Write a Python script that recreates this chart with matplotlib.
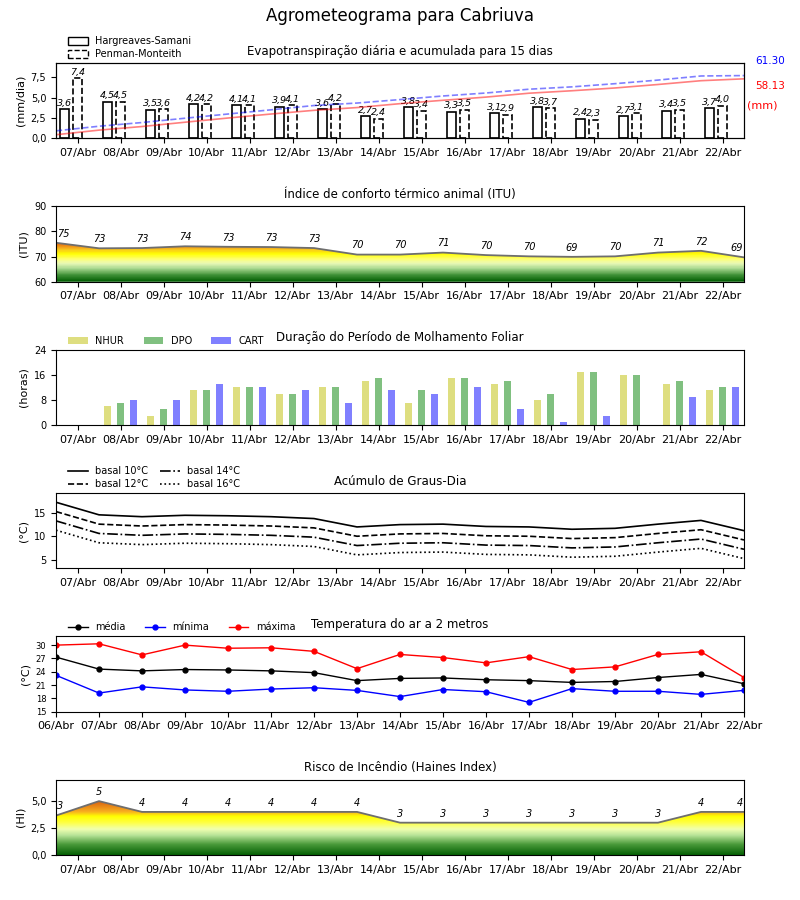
#!/usr/bin/env python3
"""
Agrometeograma - seis paineis diarios
"""

import numpy as np
import matplotlib
matplotlib.use('Agg')
import matplotlib.pyplot as plt
from matplotlib.colors import LinearSegmentedColormap
from matplotlib.patches import Patch, PathPatch
from matplotlib.ticker import FuncFormatter

# Datas
dias = ['07/Abr', '08/Abr', '09/Abr', '10/Abr', '11/Abr', '12/Abr', '13/Abr', '14/Abr',
        '15/Abr', '16/Abr', '17/Abr', '18/Abr', '19/Abr', '20/Abr', '21/Abr', '22/Abr']
dias_temp = ['06/Abr'] + dias

# Evapotranspiracao (mm/dia)
et_hs = [3.6, 4.5, 3.5, 4.2, 4.1, 3.9, 3.6, 2.7, 3.8, 3.3, 3.1, 3.8, 2.4, 2.7, 3.4, 3.7]
et_pm = [7.4, 4.5, 3.6, 4.2, 4.1, 4.1, 4.2, 2.4, 3.4, 3.5, 2.9, 3.7, 2.3, 3.1, 3.5, 4.0]
et_hs_total = 58.13
et_pm_total = 61.30

# ITU (valores nas viradas de dia)
itu = [75.5, 73.3, 73.4, 74.1, 73.9, 73.8, 73.4, 70.8, 70.8, 71.6, 70.6, 70.1,
       69.9, 70.1, 71.6, 72.3, 69.7]

# Molhamento foliar (horas)
nhur = [0, 6, 3, 11, 12, 10, 12, 14, 7, 15, 13, 8, 17, 16, 13, 11]
dpo = [0, 7, 5, 11, 12, 10, 12, 15, 11, 15, 14, 10, 17, 16, 14, 12]
cart = [0, 8, 8, 13, 12, 11, 7, 11, 10, 12, 5, 1, 3, 0, 9, 12]

# Graus-dia
gd10 = [17.3, 14.6, 14.2, 14.5, 14.4, 14.2, 13.8, 12.0, 12.5, 12.6, 12.1, 12.0, 11.5, 11.7, 12.6, 13.4, 11.2]
gd12 = [15.3, 12.6, 12.2, 12.5, 12.4, 12.2, 11.8, 10.0, 10.5, 10.6, 10.1, 10.0, 9.5, 9.7, 10.6, 11.4, 9.2]
gd14 = [13.3, 10.6, 10.2, 10.5, 10.4, 10.2, 9.8, 8.0, 8.5, 8.6, 8.1, 8.0, 7.5, 7.7, 8.6, 9.4, 7.2]
gd16 = [11.3, 8.6, 8.2, 8.5, 8.4, 8.2, 7.8, 6.0, 6.5, 6.6, 6.1, 6.0, 5.5, 5.7, 6.6, 7.4, 5.2]

# Temperatura do ar (C)
t_media = [27.3, 24.6, 24.2, 24.5, 24.4, 24.2, 23.8, 22.0, 22.5, 22.6, 22.2, 22.0, 21.6, 21.8, 22.7, 23.4, 21.3]
t_min = [23.2, 19.2, 20.6, 19.9, 19.6, 20.1, 20.4, 19.8, 18.4, 20.0, 19.5, 17.1, 20.2, 19.6, 19.6, 18.9, 19.8]
t_max = [30.0, 30.3, 27.8, 30.0, 29.3, 29.4, 28.6, 24.7, 27.9, 27.2, 26.0, 27.4, 24.5, 25.1, 27.9, 28.5, 22.7]

# Indice de Haines
haines = [3.66, 5.0, 4.0, 4.0, 4.0, 4.0, 4.0, 4.0, 3.0, 3.0, 3.0, 3.0, 3.0, 3.0, 3.0, 4.0, 4.0]


def virgula(v, pos):
    return f'{v:.1f}'.replace('.', ',')


def preenche_gradiente(ax, x, y, ymin, ymax, cmap):
    """Area sob a curva pintada com gradiente vertical"""
    poly = ax.fill_between(x, ymin, y, facecolor='none', edgecolor='none')
    patch = PathPatch(poly.get_paths()[0], transform=ax.transData,
                      facecolor='none', edgecolor='none')
    ax.add_patch(patch)
    grad = np.linspace(0, 1, 256).reshape(-1, 1)
    im = ax.imshow(grad, aspect='auto', cmap=cmap, origin='lower',
                   extent=[x[0], x[-1], ymin, ymax], interpolation='bilinear')
    im.set_clip_path(patch)
    ax.plot(x, y, color='#6e6e6e', lw=1.3)
    for xi, yi in zip(x, y):
        ha = 'center'
        dx = 0
        if xi == x[0]:
            ha, dx = 'left', 1
        elif xi == x[-1]:
            ha, dx = 'right', -1
        ax.annotate(str(int(yi)), (xi, yi), xytext=(dx, 3), textcoords='offset points',
                    ha=ha, va='bottom', fontsize=7, style='italic')


def eixo_dias(ax):
    ax.set_xlim(-0.5, 15.5)
    ax.set_xticks(np.arange(len(dias)))
    ax.set_xticklabels(dias, fontsize=8)
    ax.tick_params(axis='y', labelsize=7)


cmap_itu = LinearSegmentedColormap.from_list('itu', [
    (0.0, '#056005'), (0.08, '#3d8f35'), (0.17, '#a8d890'), (0.24, '#eafab8'),
    (0.30, '#ffff70'), (0.37, '#ffff00'), (0.43, '#f8c020'), (0.50, '#e87010'),
    (0.60, '#d04010'), (1.0, '#a00000')], N=48)
cmap_hi = LinearSegmentedColormap.from_list('hi', [
    (0.0, '#056005'), (0.14, '#4a9a3a'), (0.26, '#b8e498'), (0.34, '#f0ffb0'),
    (0.43, '#ffff40'), (0.51, '#ffff00'), (0.57, '#f8b020'), (0.71, '#d86010'),
    (1.0, '#a00000')])

fig, axes = plt.subplots(6, 1, figsize=(8, 9), dpi=100)
fig.subplots_adjust(left=0.07, right=0.93, top=0.93, bottom=0.05, hspace=0.9)
fig.suptitle('Agrometeograma para Cabriuva', fontsize=12, y=0.992)

x = np.arange(len(dias))
x_bordas = np.arange(len(dias) + 1) - 0.5
leg_x = 0.012

# 1 - Evapotranspiracao
ax = axes[0]
b1 = ax.bar(x - 0.3, et_hs, width=0.22, facecolor='white', edgecolor='black', lw=1.2)
b2 = ax.bar(x, et_pm, width=0.22, facecolor='white', edgecolor='black', lw=1.2, linestyle='--')
for barras in (b1, b2):
    for r in barras:
        h = r.get_height()
        ax.annotate(f'{h:.1f}'.replace('.', ','), (r.get_x() + r.get_width() / 2, h),
                    xytext=(0, 1), textcoords='offset points', ha='center', va='bottom',
                    fontsize=6.8, style='italic')
ax.set_ylim(0, max(et_pm) * 1.25)
ax.set_yticks([0, 2.5, 5.0, 7.5])
ax.yaxis.set_major_formatter(FuncFormatter(virgula))
ax.set_ylabel('(mm/dia)', fontsize=8)
eixo_dias(ax)
ax2 = ax.twinx()
ax2.plot(x_bordas, np.append(np.cumsum(et_hs), et_hs_total), color='red', alpha=0.5, lw=1.2)
ax2.plot(x_bordas, np.append(np.cumsum(et_pm), et_pm_total), color='blue', alpha=0.5, lw=1.2,
         linestyle='--')
ax2.set_ylim(0, et_pm_total * 1.2)
ax2.set_yticks([])
ax.text(1.016, 1.03, f'{et_pm_total:.2f}', transform=ax.transAxes, color='blue', fontsize=7.5,
        va='center')
ax.text(1.016, 0.69, f'{et_hs_total:.2f}', transform=ax.transAxes, color='red', fontsize=7.5,
        va='center')
ax.text(1.004, 0.43, '(mm)', transform=ax.transAxes, color='red', fontsize=8, va='center')
ax.set_title('Evapotranspiração diária e acumulada para 15 dias', fontsize=8.5)
ax.legend(handles=[Patch(facecolor='white', edgecolor='black', lw=1),
                   Patch(facecolor='white', edgecolor='black', lw=1, linestyle='--')],
          labels=['Hargreaves-Samani', 'Penman-Monteith'], loc='lower left',
          bbox_to_anchor=(leg_x, 1.0), frameon=False, fontsize=7, borderaxespad=0,
          handlelength=2.0, handleheight=0.9, labelspacing=0.3)

# 2 - ITU
ax = axes[1]
preenche_gradiente(ax, x_bordas, itu, 60, 90, cmap_itu)
eixo_dias(ax)
ax.set_ylim(60, 90)
ax.set_yticks([60, 70, 80, 90])
ax.set_ylabel('(ITU)', fontsize=8)
ax.set_title('Índice de conforto térmico animal (ITU)', fontsize=8.5)

# 3 - Molhamento foliar
ax = axes[2]
ax.bar(x - 0.3, nhur, width=0.16, color='#dede80', label='NHUR')
ax.bar(x, dpo, width=0.16, color='#80c080', label='DPO')
ax.bar(x + 0.3, cart, width=0.16, color='#8080ff', label='CART')
eixo_dias(ax)
ax.set_ylim(0, 24)
ax.set_yticks([0, 8, 16, 24])
ax.set_ylabel('(horas)', fontsize=8)
ax.set_title('Duração do Período de Molhamento Foliar', fontsize=8.5)
ax.legend(loc='lower left', bbox_to_anchor=(leg_x, 1.0), frameon=False, fontsize=7, ncol=3,
          borderaxespad=0, handlelength=2.0, columnspacing=2.0)

# 4 - Graus-dia
ax = axes[3]
ax.plot(x_bordas, gd10, color='black', lw=1.2, linestyle='-', label='basal 10°C')
ax.plot(x_bordas, gd12, color='black', lw=1.2, linestyle='--', label='basal 12°C')
ax.plot(x_bordas, gd14, color='black', lw=1.2, linestyle='-.', label='basal 14°C')
ax.plot(x_bordas, gd16, color='black', lw=1.2, linestyle=':', label='basal 16°C')
eixo_dias(ax)
ax.set_ylim(3.1, 19.3)
ax.set_yticks([5, 10, 15])
ax.set_ylabel('(°C)', fontsize=8)
ax.set_title('Acúmulo de Graus-Dia', fontsize=8.5)
ax.legend(loc='lower left', bbox_to_anchor=(leg_x, 1.0), frameon=False, fontsize=7, ncol=2,
          borderaxespad=0, handlelength=2.0, labelspacing=0.3, columnspacing=1.2)

# 5 - Temperatura
ax = axes[4]
ax.plot(x_bordas, t_media, color='black', marker='o', ms=3.5, lw=1, label='média')
ax.plot(x_bordas, t_min, color='blue', marker='o', ms=3.5, lw=1, label='mínima')
ax.plot(x_bordas, t_max, color='red', marker='o', ms=3.5, lw=1, label='máxima')
ax.set_xlim(-0.5, 15.5)
ax.set_xticks(x_bordas)
ax.set_xticklabels(dias_temp, fontsize=8)
ax.set_ylim(15, 32)
ax.set_yticks([15, 18, 21, 24, 27, 30])
ax.tick_params(axis='y', labelsize=6)
ax.set_ylabel('(°C)', fontsize=8)
ax.set_title('Temperatura do ar a 2 metros', fontsize=8.5)
ax.legend(loc='lower left', bbox_to_anchor=(leg_x, 1.0), frameon=False, fontsize=7, ncol=3,
          borderaxespad=0, handlelength=2.0, columnspacing=2.0)

# 6 - Haines
ax = axes[5]
preenche_gradiente(ax, x_bordas, haines, 0, 7, cmap_hi)
eixo_dias(ax)
ax.set_ylim(0, 7)
ax.set_yticks([0, 2.5, 5.0])
ax.yaxis.set_major_formatter(FuncFormatter(virgula))
ax.set_ylabel('(HI)', fontsize=8)
ax.set_title('Risco de Incêndio (Haines Index)', fontsize=8.5)

plt.savefig('out.png', dpi=100)
plt.close()
